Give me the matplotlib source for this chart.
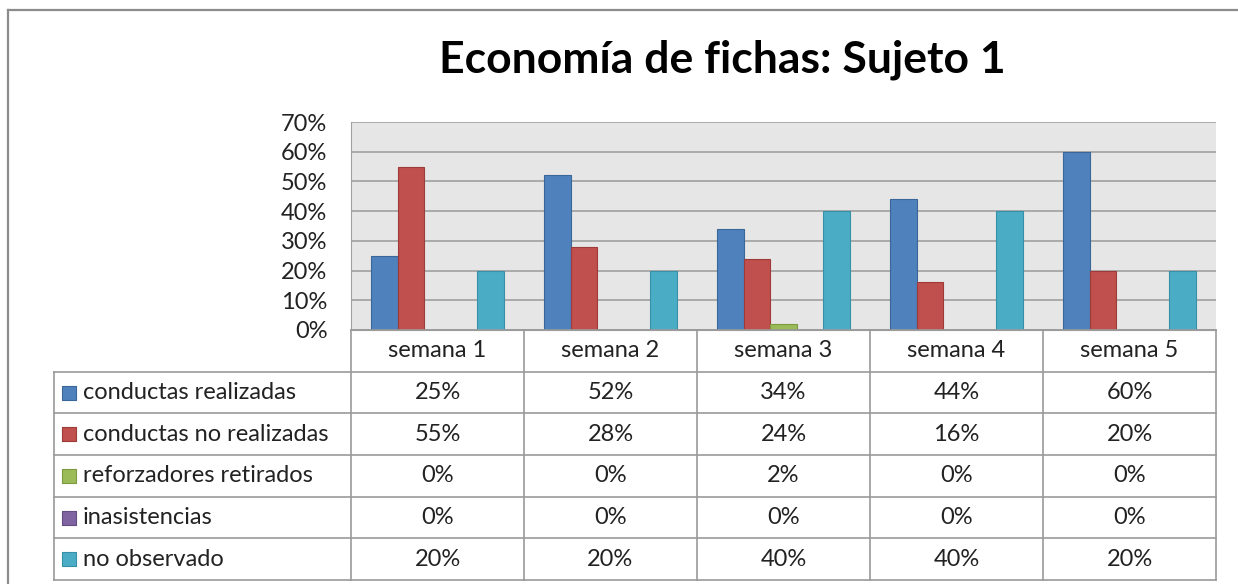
import matplotlib
matplotlib.use("Agg")
import matplotlib.pyplot as plt
from matplotlib.lines import Line2D
from matplotlib.ticker import FuncFormatter

# ---- data ----
categories = ["semana 1", "semana 2", "semana 3", "semana 4", "semana 5"]
series_names = ["conductas realizadas", "conductas no realizadas",
                "reforzadores retirados", "inasistencias", "no observado"]
conductas_realizadas = [25, 52, 34, 44, 60]
conductas_no_realizadas = [55, 28, 24, 16, 20]
reforzadores_retirados = [0, 0, 2, 0, 0]
inasistencias = [0, 0, 0, 0, 0]
no_observado = [20, 20, 40, 40, 20]
series_values = [conductas_realizadas, conductas_no_realizadas,
                 reforzadores_retirados, inasistencias, no_observado]
y_ticks = [0, 10, 20, 30, 40, 50, 60, 70]
title = "Economía de fichas: Sujeto 1"

colors = ["#4F81BD", "#C0504D", "#9BBB59", "#8064A2", "#4BACC6"]
edges = ["#3B6698", "#9E3B38", "#7D9A43", "#634D82", "#3690A8"]

FONT = ["Lato", "DejaVu Sans"]
plt.rcParams["font.family"] = FONT

W, H = 1238, 584
fig = plt.figure(figsize=(W / 100, H / 100), dpi=100)
fig.patch.set_facecolor("white")

def fx(px):
    return px / W

def fy(py):
    return 1 - py / H

# outer frame (left & top)
fig.add_artist(Line2D([fx(8), fx(8)], [fy(10), fy(584)], color="#8C8C8C", lw=1.6))
fig.add_artist(Line2D([fx(8), fx(1238)], [fy(10), fy(10)], color="#8C8C8C", lw=1.6))

# title
fig.text(fx(722), fy(60), title, ha="center", va="center",
         fontsize=32, fontweight="bold", color="black")

# ---- bar plot ----
pl, pr, pt, pb = 351, 1216, 122, 330
ax = fig.add_axes([fx(pl), fy(pb), fx(pr) - fx(pl), fy(pt) - fy(pb)])
ax.set_facecolor("#E6E6E6")
ax.set_xlim(-0.5, len(categories) - 0.5)
ax.set_ylim(0, 70)
bw = 26.5 / 173
n = len(series_values)
for j, (vals, c, ec) in enumerate(zip(series_values, colors, edges)):
    xs = [i + (j - (n - 1) / 2) * bw for i in range(len(categories))]
    ax.bar(xs, vals, width=bw, color=c, edgecolor=ec,
           linewidth=[0.8 if v > 0 else 0 for v in vals], zorder=3)
ax.set_yticks(y_ticks)
ax.yaxis.set_major_formatter(FuncFormatter(lambda v, p: f"{int(v)}%"))
ax.yaxis.grid(True, color="#A0A0A0", lw=1.2, zorder=1)
ax.set_xticks([])
ax.tick_params(axis="y", length=0, pad=17, labelsize=17, labelcolor="#222222")
for lab in ax.get_yticklabels():
    lab.set_horizontalalignment("right")
for s in ["top", "right"]:
    ax.spines[s].set_visible(False)
ax.spines["left"].set_color("#A0A0A0")
ax.spines["bottom"].set_color("#A0A0A0")

# ---- data table ----
tl, tr, tt, tb = 54, 1216, 330, 580
colw = 173.0
x_left = -0.5 - (pl - tl) / colw
tax = fig.add_axes([fx(tl), fy(tb), fx(tr) - fx(tl), fy(tt) - fy(tb)])
tax.set_xlim(x_left, len(categories) - 0.5)
nrows = len(series_names) + 1
tax.set_ylim(nrows, 0)
tax.axis("off")
lc = "#9A9A9A"
lw = 1.2
# horizontal lines
for r in range(1, nrows + 1):
    tax.plot([x_left, len(categories) - 0.5], [r, r], color=lc, lw=lw, clip_on=False)
tax.plot([-0.5, len(categories) - 0.5], [0, 0], color=lc, lw=lw, clip_on=False)
# vertical lines
for k in range(len(categories) + 1):
    tax.plot([-0.5 + k, -0.5 + k], [0, nrows], color=lc, lw=lw, clip_on=False)
tax.plot([x_left, x_left], [1, nrows], color=lc, lw=lw, clip_on=False)

fs = 17
for i, cat in enumerate(categories):
    tax.text(i, 0.5, cat, ha="center", va="center", fontsize=fs, color="#222222")
for r, (name, vals, c, ec) in enumerate(zip(series_names, series_values, colors, edges)):
    y = r + 1.5
    tax.scatter([x_left + 15 / colw], [y], marker="s", s=95, color=c,
                edgecolors=ec, linewidths=0.8, clip_on=False, zorder=3)
    tax.text(x_left + 29 / colw, y, name, ha="left", va="center",
             fontsize=fs, color="#222222")
    for i, v in enumerate(vals):
        tax.text(i, y, f"{v}%", ha="center", va="center", fontsize=fs, color="#222222")

fig.savefig("out.png", dpi=100, facecolor="white")
